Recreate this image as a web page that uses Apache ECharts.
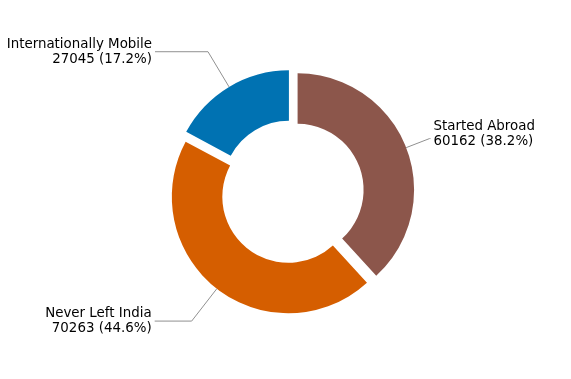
<!DOCTYPE html>
<html>
<head>
<meta charset="utf-8">
<script src="https://cdn.jsdelivr.net/npm/echarts@6/dist/echarts.min.js"></script>
<style>html,body{margin:0;padding:0;background:#fff}#c{width:571px;height:379px}</style>
</head>
<body>
<div id="c"></div>
<script>
const categories = ['Started Abroad', 'Never Left India', 'Internationally Mobile'];
const values = [60162, 70263, 27045];
const colors = ['#8C564B', '#D55E00', '#0072B2'];
const lineLengths = [[25, 1], [41, 37], [41, 53]];
const labelFormats = ['{b}\n{c} ({d}%)\n{s| }', '{b}\n{c} ({d}%)', '{b}\n{c} ({d}%)'];

const chart = echarts.init(document.getElementById('c'), null, {renderer: 'canvas'});
chart.setOption({
  animation: false,
  series: [{
    type: 'pie',
    center: [292, 192],
    radius: [66, 116.5],
    startAngle: 90,
    clockwise: true,
    selectedMode: 'multiple',
    selectedOffset: 6,
    percentPrecision: 1,
    avoidLabelOverlap: false,
    label: {
      show: true,
      fontFamily: 'DejaVu Sans',
      fontSize: 13.4,
      lineHeight: 15,
      color: '#000',
      distanceToLabelLine: 3,
      rich: {s: {fontSize: 6, lineHeight: 9}}
    },
    labelLine: {
      show: true,
      lineStyle: {color: '#909090', width: 1}
    },
    emphasis: {disabled: true},
    data: categories.map((name, i) => ({
      name: name,
      value: values[i],
      selected: true,
      itemStyle: {color: colors[i]},
      label: {formatter: labelFormats[i]},
      labelLine: {length: lineLengths[i][0], length2: lineLengths[i][1]}
    }))
  }]
});
</script>
</body>
</html>
